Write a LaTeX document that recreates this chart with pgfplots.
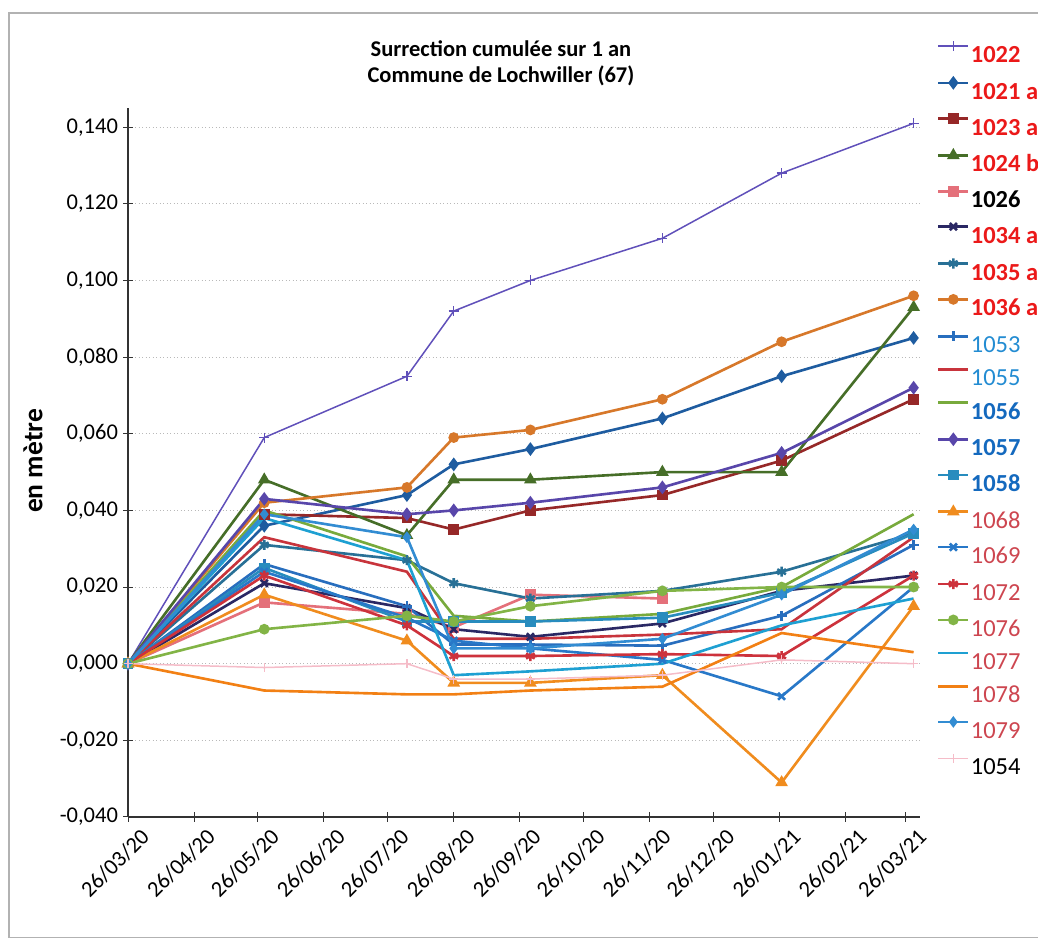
\documentclass[border=0pt]{standalone}
\usepackage{pgfplots}
\pgfplotsset{compat=1.18}
\usepackage{fontspec}
\setmainfont{Carlito}
\definecolor{c1022}{RGB}{96,80,186}
\definecolor{c1021}{RGB}{30,92,160}
\definecolor{c1023}{RGB}{150,40,40}
\definecolor{c1024}{RGB}{70,110,40}
\definecolor{c1026}{RGB}{228,112,122}
\definecolor{c1034}{RGB}{42,40,100}
\definecolor{c1035}{RGB}{40,112,150}
\definecolor{c1036}{RGB}{215,120,42}
\definecolor{c1053}{RGB}{40,110,190}
\definecolor{c1055}{RGB}{200,52,60}
\definecolor{c1056}{RGB}{120,170,60}
\definecolor{c1057}{RGB}{88,70,170}
\definecolor{c1058}{RGB}{40,140,190}
\definecolor{c1068}{RGB}{240,140,30}
\definecolor{c1069}{RGB}{40,120,200}
\definecolor{c1072}{RGB}{205,50,60}
\definecolor{c1076}{RGB}{130,180,70}
\definecolor{c1077}{RGB}{30,160,210}
\definecolor{c1078}{RGB}{242,128,20}
\definecolor{c1079}{RGB}{50,140,210}
\definecolor{c1054}{RGB}{245,188,200}
\definecolor{lr}{RGB}{235,25,25}
\definecolor{lb}{RGB}{35,140,210}
\definecolor{db}{RGB}{20,105,190}
\definecolor{lp}{RGB}{205,70,80}
\newcommand\lgf{\fontsize{9.8}{11}\selectfont}
\newcommand\lgR[1]{{\lgf\bfseries\color{lr}#1}}
\newcommand\lgK[1]{{\lgf\bfseries\color{black}#1}}
\newcommand\lgB[1]{{\lgf\color{lb}#1}}
\newcommand\lgD[1]{{\lgf\bfseries\color{db}#1}}
\newcommand\lgP[1]{{\lgf\color{lp}#1}}
\begin{document}
\begin{tikzpicture}[x=1pt,y=1pt]
\useasboundingbox (0,0) rectangle (415.2,377.2);
\draw[gray!60, line width=0.5pt] (3.6,2.2) rectangle (430,372);
\node[font=\bfseries\fontsize{9}{10}\selectfont, align=center] at (200.4,352) {Surrection cumulée sur 1 an\\[0.5pt]Commune de Lochwiller (67)};
\node[font=\bfseries\fontsize{11}{12}\selectfont, rotate=90] at (13.2,192.8) {en mètre};
\begin{axis}[
  at={(51.2pt,50.4pt)}, anchor=south west,
  scale only axis, width=316.8pt, height=283.6pt,
  xmin=0, xmax=372, ymin=-0.04, ymax=0.145,
  axis x line*=bottom, axis y line*=left,
  axis line style={black!80, line width=0.5pt},
  ytick={-0.04,-0.02,0,0.02,0.04,0.06,0.08,0.1,0.12,0.14},
  scaled y ticks=false,
  yticklabel style={xshift=1.5pt, /pgf/number format/.cd, fixed, fixed zerofill, precision=3, use comma, assume math mode=true},
  ticklabel style={font=\fontsize{9}{10}\selectfont},
  xtick={0,31,61,92,122,153,184,214,245,275,306,337,365},
  xticklabels={26/03/20,26/04/20,26/05/20,26/06/20,26/07/20,26/08/20,26/09/20,26/10/20,26/11/20,26/12/20,26/01/21,26/02/21,26/03/21},
  xticklabel style={rotate=45, anchor=north east, inner sep=1pt, xshift=3pt, yshift=-3.5pt},
  tick align=center, major tick length=4pt,
  tick style={black!80, line width=0.4pt},
  ymajorgrids, grid style={gray!55, densely dotted, line width=0.4pt},
  every axis plot/.append style={line width=1.05pt, mark options={solid}},
  legend style={at={(1.0215,1.0942)}, anchor=north west, draw=none, fill=none,
    inner sep=0pt, outer sep=0pt, row sep=6.15pt,
    nodes={inner sep=0pt, text height=7pt, text depth=0pt},
    /tikz/every odd column/.append style={column sep=0.5pt}},
  legend cell align=left,
  legend image code/.code={\draw[mark repeat=2,mark phase=2,#1] plot coordinates {(0pt,3.1pt) (6pt,3.1pt) (12pt,3.1pt)};},
]
\addplot[c1022, line width=0.6pt, mark=+, mark size=2pt] coordinates {(0,0) (64,0.059) (131,0.075) (153,0.092) (189,0.100) (251,0.111) (307,0.128) (369,0.141)};
\addlegendentry{\lgR{1022}}
\addplot[c1021, mark=diamond*, mark size=1.9pt] coordinates {(0,0) (64,0.036) (131,0.044) (153,0.052) (189,0.056) (251,0.064) (307,0.075) (369,0.085)};
\addlegendentry{\lgR{1021 a}}
\addplot[c1023, mark=square*, mark size=1.6pt] coordinates {(0,0) (64,0.039) (131,0.038) (153,0.035) (189,0.040) (251,0.044) (307,0.053) (369,0.069)};
\addlegendentry{\lgR{1023 a}}
\addplot[c1024, mark=triangle*, mark size=1.9pt] coordinates {(0,0) (64,0.048) (131,0.0335) (153,0.048) (189,0.048) (251,0.050) (307,0.050) (369,0.093)};
\addlegendentry{\lgR{1024 b}}
\addplot[c1026, mark=square*, mark size=1.6pt] coordinates {(0,0) (64,0.016) (131,0.013) (153,0.0095) (189,0.018) (251,0.017)};
\addlegendentry{\lgK{1026}}
\addplot[c1034, mark=x, mark size=2pt] coordinates {(0,0) (64,0.021) (131,0.0145) (153,0.009) (189,0.007) (251,0.0105) (307,0.019) (369,0.023)};
\addlegendentry{\lgR{1034 a}}
\addplot[c1035, mark=asterisk, mark size=2pt] coordinates {(0,0) (64,0.031) (131,0.027) (153,0.021) (189,0.017) (251,0.019) (307,0.024) (369,0.034)};
\addlegendentry{\lgR{1035 a}}
\addplot[c1036, mark=*, mark size=1.6pt] coordinates {(0,0) (64,0.042) (131,0.046) (153,0.059) (189,0.061) (251,0.069) (307,0.084) (369,0.096)};
\addlegendentry{\lgR{1036 a}}
\addplot[c1053, mark=+, mark size=2pt] coordinates {(0,0) (64,0.026) (131,0.015) (153,0.005) (189,0.005) (251,0.0047) (307,0.0125) (369,0.031)};
\addlegendentry{\lgB{1053}}
\addplot[c1055, no marks] coordinates {(0,0) (64,0.033) (131,0.024) (153,0.0065) (189,0.0065) (251,0.0076) (307,0.009) (369,0.033)};
\addlegendentry{\lgB{1055}}
\addplot[c1056, no marks] coordinates {(0,0) (64,0.040) (131,0.028) (153,0.0125) (189,0.011) (251,0.013) (307,0.020) (369,0.039)};
\addlegendentry{\lgD{1056}}
\addplot[c1057, mark=diamond*, mark size=1.9pt] coordinates {(0,0) (64,0.043) (131,0.039) (153,0.040) (189,0.042) (251,0.046) (307,0.055) (369,0.072)};
\addlegendentry{\lgD{1057}}
\addplot[c1058, mark=square*, mark size=1.6pt] coordinates {(0,0) (64,0.025) (131,0.011) (153,0.011) (189,0.011) (251,0.012) (307,0.0185) (369,0.034)};
\addlegendentry{\lgD{1058}}
\addplot[c1068, mark=triangle*, mark size=1.9pt] coordinates {(0,0) (64,0.018) (131,0.006) (153,-0.005) (189,-0.005) (251,-0.003) (307,-0.031) (369,0.015)};
\addlegendentry{\lgP{1068}}
\addplot[c1069, mark=x, mark size=2pt] coordinates {(0,0) (64,0.024) (131,0.012) (153,0.006) (189,0.004) (251,0.001) (307,-0.0085) (369,0.020)};
\addlegendentry{\lgP{1069}}
\addplot[c1072, mark=asterisk, mark size=2pt] coordinates {(0,0) (64,0.023) (131,0.010) (153,0.002) (189,0.002) (251,0.0025) (307,0.002) (369,0.023)};
\addlegendentry{\lgP{1072}}
\addplot[c1076, mark=*, mark size=1.6pt] coordinates {(0,0) (64,0.009) (131,0.0125) (153,0.011) (189,0.015) (251,0.019) (307,0.020) (369,0.020)};
\addlegendentry{\lgP{1076}}
\addplot[c1077, no marks] coordinates {(0,0) (64,0.038) (131,0.027) (153,-0.003) (189,-0.002) (251,0.000) (307,0.010) (369,0.017)};
\addlegendentry{\lgP{1077}}
\addplot[c1078, no marks] coordinates {(0,0) (64,-0.007) (131,-0.008) (153,-0.008) (189,-0.007) (251,-0.006) (307,0.008) (369,0.003)};
\addlegendentry{\lgP{1078}}
\addplot[c1079, mark=diamond*, mark size=1.5pt] coordinates {(0,0) (64,0.039) (131,0.033) (153,0.004) (189,0.004) (251,0.0065) (307,0.018) (369,0.035)};
\addlegendentry{\lgP{1079}}
\addplot[c1054, line width=0.6pt, mark=+, mark size=1.8pt] coordinates {(0,0) (64,-0.001) (131,0.000) (153,-0.004) (189,-0.004) (251,-0.003) (307,0.001) (369,0.000)};
\addlegendentry{{\lgf 1054}}
\end{axis}
\end{tikzpicture}
\end{document}
